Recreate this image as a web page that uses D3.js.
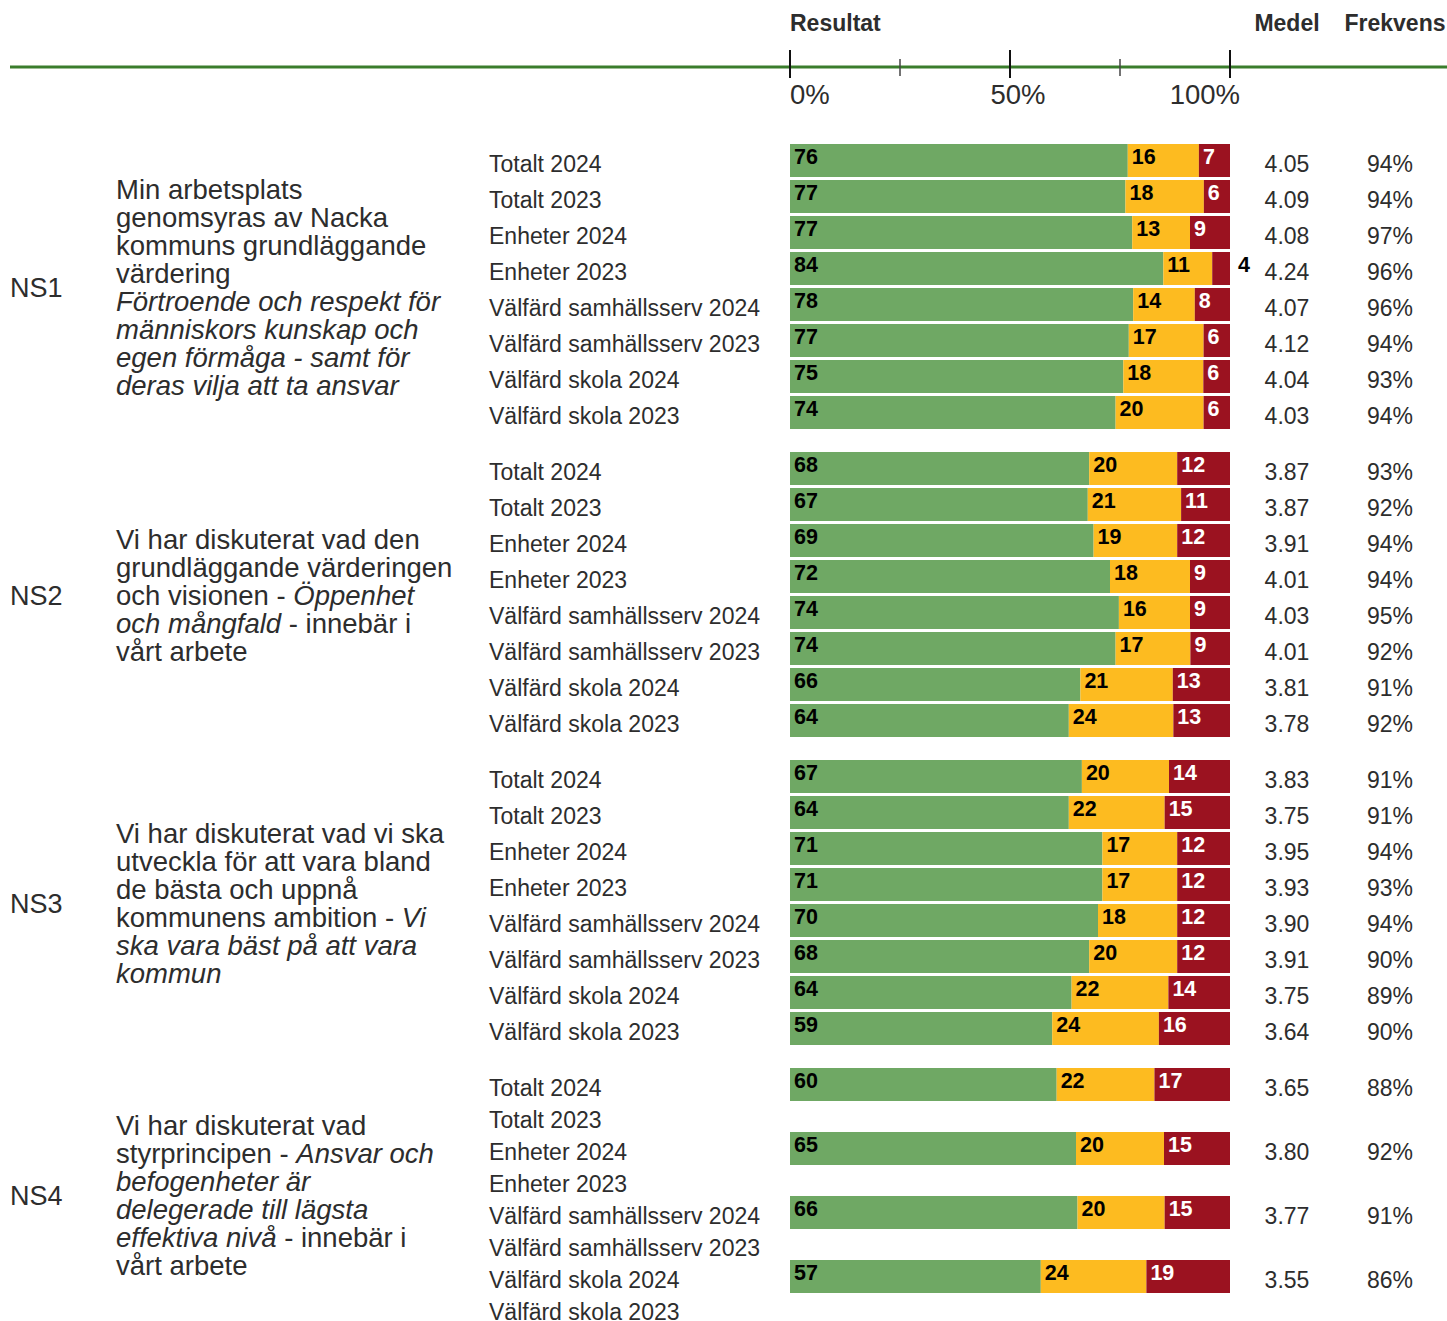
<!DOCTYPE html>
<html>
<head>
<meta charset="utf-8">
<script src="https://cdn.jsdelivr.net/npm/d3@7"></script>
<style>
  body { margin: 0; background: #fff; }
  svg { display: block; font-family: "Liberation Sans", Arial, sans-serif; }
</style>
</head>
<body>
<div id="chart"></div>
<script>
// data
const groupCodes = ["NS1", "NS2", "NS3", "NS4"];
const rowLabels = ["Totalt 2024", "Totalt 2023", "Enheter 2024", "Enheter 2023",
  "Välfärd samhällsserv 2024", "Välfärd samhällsserv 2023", "Välfärd skola 2024", "Välfärd skola 2023"];

// share agreeing / neutral / disagreeing, per group and row (null = no result)
const positive = [
  [76, 77, 77, 84, 78, 77, 75, 74],
  [68, 67, 69, 72, 74, 74, 66, 64],
  [67, 64, 71, 71, 70, 68, 64, 59],
  [60, null, 65, null, 66, null, 57, null]
];
const neutral = [
  [16, 18, 13, 11, 14, 17, 18, 20],
  [20, 21, 19, 18, 16, 17, 21, 24],
  [20, 22, 17, 17, 18, 20, 22, 24],
  [22, null, 20, null, 20, null, 24, null]
];
const negative = [
  [7, 6, 9, 4, 8, 6, 6, 6],
  [12, 11, 12, 9, 9, 9, 13, 13],
  [14, 15, 12, 12, 12, 12, 14, 16],
  [17, null, 15, null, 15, null, 19, null]
];
const medel = [
  ["4.05", "4.09", "4.08", "4.24", "4.07", "4.12", "4.04", "4.03"],
  ["3.87", "3.87", "3.91", "4.01", "4.03", "4.01", "3.81", "3.78"],
  ["3.83", "3.75", "3.95", "3.93", "3.90", "3.91", "3.75", "3.64"],
  ["3.65", null, "3.80", null, "3.77", null, "3.55", null]
];
const frekvens = [
  ["94%", "94%", "97%", "96%", "96%", "94%", "93%", "94%"],
  ["93%", "92%", "94%", "94%", "95%", "92%", "91%", "92%"],
  ["91%", "91%", "94%", "93%", "94%", "90%", "89%", "90%"],
  ["88%", null, "92%", null, "91%", null, "86%", null]
];

// question text, one array per line of [text, italic]
const questions = [
  [
    [["Min arbetsplats", false]],
    [["genomsyras av Nacka", false]],
    [["kommuns grundläggande", false]],
    [["värdering", false]],
    [["Förtroende och respekt för", true]],
    [["människors kunskap och", true]],
    [["egen förmåga - samt för", true]],
    [["deras vilja att ta ansvar", true]]
  ],
  [
    [["Vi har diskuterat vad den", false]],
    [["grundläggande värderingen", false]],
    [["och visionen - ", false], ["Öppenhet", true]],
    [["och mångfald", true], [" - innebär i", false]],
    [["vårt arbete", false]]
  ],
  [
    [["Vi har diskuterat vad vi ska", false]],
    [["utveckla för att vara bland", false]],
    [["de bästa och uppnå", false]],
    [["kommunens ambition - ", false], ["Vi", true]],
    [["ska vara bäst på att vara", true]],
    [["kommun", true]]
  ],
  [
    [["Vi har diskuterat vad", false]],
    [["styrprincipen - ", false], ["Ansvar och", true]],
    [["befogenheter är", true]],
    [["delegerade till lägsta", true]],
    [["effektiva nivå", true], [" - innebär i", false]],
    [["vårt arbete", false]]
  ]
];

const axisTicks = [0, 25, 50, 75, 100];
const axisLabels = ["0%", "50%", "100%"];
const keys = ["positive", "neutral", "negative"];

const width = 1447;
const height = 1321;
const textColor = "#2d2d2d";
const colors = { positive: "#6fa864", neutral: "#fdbb20", negative: "#9b1220" };
const labelColors = { positive: "#000", neutral: "#000", negative: "#fff" };

const svg = d3.select("#chart").append("svg")
  .attr("width", width)
  .attr("height", height);

const x = d3.scaleLinear().domain([0, 1]).range([790, 1230]);
const xPct = d3.scaleLinear().domain([0, 100]).range([790, 1230]);

// headers
const header = svg.append("g")
  .attr("font-size", 23)
  .attr("font-weight", "bold")
  .attr("fill", textColor);
header.append("text").attr("x", 790).attr("y", 31).text("Resultat");
header.append("text").attr("x", 1287).attr("y", 31).attr("text-anchor", "middle").text("Medel");
header.append("text").attr("x", 1395).attr("y", 31).attr("text-anchor", "middle").text("Frekvens");

// green rule + ticks
svg.append("line")
  .attr("x1", 10).attr("x2", width)
  .attr("y1", 67).attr("y2", 67)
  .attr("stroke", "#3a7d2c")
  .attr("stroke-width", 3);

svg.selectAll(".tick")
  .data(axisTicks)
  .join("line")
  .attr("class", "tick")
  .attr("x1", d => xPct(d)).attr("x2", d => xPct(d))
  .attr("y1", d => d % 50 === 0 ? 50 : 59)
  .attr("y2", d => d % 50 === 0 ? 78 : 76)
  .attr("stroke", d => d % 50 === 0 ? "#111" : "#444")
  .attr("stroke-width", d => d % 50 === 0 ? 2 : 1.5);

svg.selectAll(".ticklabel")
  .data(axisLabels)
  .join("text")
  .attr("class", "ticklabel")
  .attr("x", (d, i) => xPct(i * 50) + [0, 8, 10][i])
  .attr("y", 104)
  .attr("text-anchor", (d, i) => ["start", "middle", "end"][i])
  .attr("font-size", 27.5)
  .attr("fill", textColor)
  .text(d => d);

// groups
const groupTops = [144, 452, 760, 1068];
const groupPitch = [36, 36, 36, 32];
const barHeight = 33;

const stack = d3.stack().keys(keys).offset(d3.stackOffsetExpand);

groupCodes.forEach((code, g) => {
  const y = d3.scaleBand()
    .domain(rowLabels)
    .range([groupTops[g], groupTops[g] + groupPitch[g] * rowLabels.length]);

  const rows = rowLabels.map((label, i) => ({
    label: label,
    positive: positive[g][i],
    neutral: neutral[g][i],
    negative: negative[g][i],
    medel: medel[g][i],
    frekvens: frekvens[g][i]
  }));
  const withData = rows.filter(r => r.positive != null);

  const gg = svg.append("g").attr("class", "group-" + code);
  const center = groupTops[g] + groupPitch[g] * rowLabels.length / 2;

  // code label
  gg.append("text")
    .attr("x", 10)
    .attr("y", center + 9)
    .attr("font-size", 27)
    .attr("fill", textColor)
    .text(code);

  // question text
  const lines = questions[g];
  const lineH = 28;
  gg.selectAll(".qline")
    .data(lines)
    .join("text")
    .attr("class", "qline")
    .attr("x", 116)
    .attr("y", (d, i) => center - (lines.length - 1) / 2 * lineH + i * lineH + 9)
    .attr("font-size", 27.5)
    .attr("fill", textColor)
    .selectAll("tspan")
    .data(d => d)
    .join("tspan")
    .attr("font-style", d => d[1] ? "italic" : "normal")
    .text(d => d[0]);

  // row labels
  gg.selectAll(".rowlabel")
    .data(rows)
    .join("text")
    .attr("class", "rowlabel")
    .attr("x", 489)
    .attr("y", d => y(d.label) + 28)
    .attr("font-size", 23)
    .attr("fill", textColor)
    .text(d => d.label);

  // stacked bars
  const series = stack(withData);
  const segs = gg.selectAll(".series")
    .data(series)
    .join("g")
    .attr("class", "series")
    .selectAll("g")
    .data(s => s.map(v => ({ key: s.key, v0: v[0], v1: v[1], row: v.data })))
    .join("g");

  segs.append("rect")
    .attr("x", d => x(d.v0))
    .attr("y", d => y(d.row.label))
    .attr("width", d => x(d.v1) - x(d.v0))
    .attr("height", barHeight)
    .attr("fill", d => colors[d.key]);

  segs.append("text")
    .attr("x", d => {
      const w = x(d.v1) - x(d.v0);
      return w < 20 ? x(d.v1) + 8 : x(d.v0) + 4;
    })
    .attr("y", d => y(d.row.label) + 20)
    .attr("font-size", 21.5)
    .attr("font-weight", "bold")
    .attr("fill", d => (x(d.v1) - x(d.v0) < 20) ? "#000" : labelColors[d.key])
    .text(d => d.row[d.key]);

  // medel + frekvens
  gg.selectAll(".medel")
    .data(withData)
    .join("text")
    .attr("class", "medel")
    .attr("x", 1287)
    .attr("y", d => y(d.label) + 28)
    .attr("text-anchor", "middle")
    .attr("font-size", 23)
    .attr("fill", textColor)
    .text(d => d.medel);

  gg.selectAll(".frekvens")
    .data(withData)
    .join("text")
    .attr("class", "frekvens")
    .attr("x", 1390)
    .attr("y", d => y(d.label) + 28)
    .attr("text-anchor", "middle")
    .attr("font-size", 23)
    .attr("fill", textColor)
    .text(d => d.frekvens);
});
</script>
</body>
</html>
